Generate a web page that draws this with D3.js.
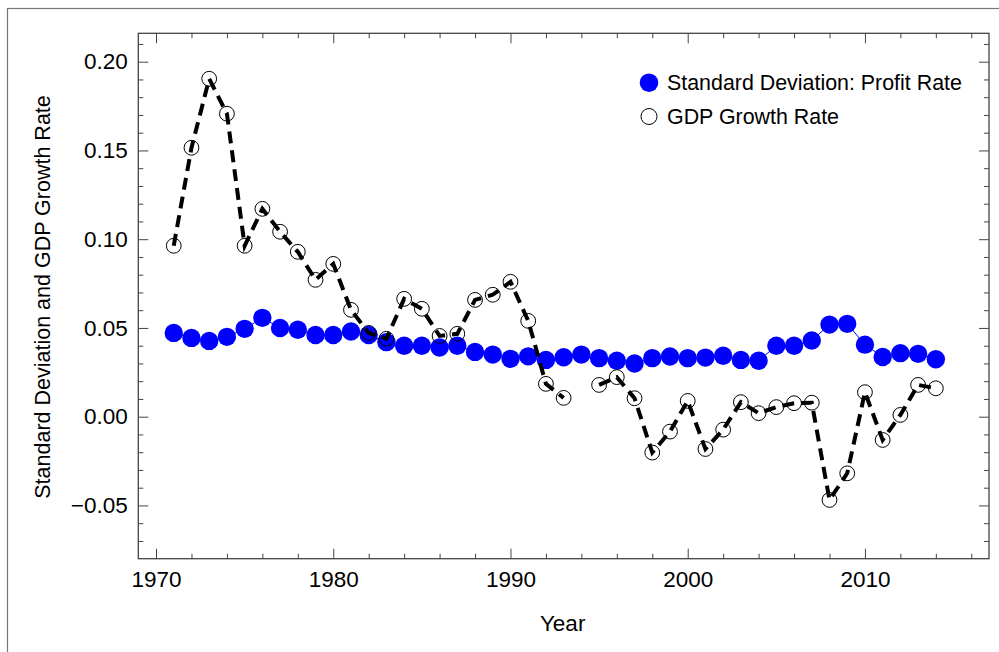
<!DOCTYPE html>
<html>
<head>
<meta charset="utf-8">
<script src="https://cdn.jsdelivr.net/npm/d3@7"></script>
<style>
  html, body { margin: 0; padding: 0; background: #fff; }
  svg { display: block; font-family: "Liberation Sans", Arial, sans-serif; }
</style>
</head>
<body>
<svg id="chart" width="999" height="652"></svg>
<script>
const years = d3.range(1971, 2015);
const sdProfit = [0.0472, 0.0444, 0.0427, 0.0450, 0.0495, 0.0557, 0.0500, 0.0490, 0.0460, 0.0460,
  0.0480, 0.0460, 0.0420, 0.0400, 0.0400, 0.0390, 0.0400, 0.0365, 0.0350, 0.0326,
  0.0340, 0.0320, 0.0335, 0.0350, 0.0330, 0.0315, 0.0300, 0.0330, 0.0339, 0.0330,
  0.0333, 0.0343, 0.0320, 0.0315, 0.0400, 0.0400, 0.0429, 0.0519, 0.0523, 0.0406,
  0.0336, 0.0358, 0.0354, 0.0324];
const gdpGrowth = [0.0963, 0.1515, 0.1904, 0.1707, 0.0963, 0.1171, 0.1042, 0.0929, 0.0771, 0.0861,
  0.0602, 0.0472, 0.0439, 0.0664, 0.0608, 0.0455, 0.0467, 0.0658, 0.0687, 0.0760,
  0.0540, 0.0185, 0.0106, null, 0.0179, 0.0223, 0.0104, -0.0202, -0.0084, 0.0089,
  -0.0182, -0.0073, 0.0082, 0.0020, 0.0054, 0.0076, 0.0079, -0.0469, -0.0319, 0.0138,
  -0.0131, 0.0010, 0.0179, 0.0160];
const xMajorTicks = [1970, 1980, 1990, 2000, 2010];
const xMinorTicks = d3.range(1972, 2017, 2).filter(v => v % 10 !== 0);
const yMajorTicks = [-0.05, 0.00, 0.05, 0.10, 0.15, 0.20];
const yMinorTicks = d3.range(-7, 22).map(v => v / 100).filter(v => Math.round(v * 100) % 5 !== 0);
const seriesNames = ["Standard Deviation: Profit Rate", "GDP Growth Rate"];
const xLabel = "Year";
const yLabel = "Standard Deviation and GDP Growth Rate";

const svg = d3.select("#chart");
const L = 138.3, R = 989, T = 33.3, B = 558.7;
const x = d3.scaleLinear().domain([1969, 2017]).range([L, R]);
const y = d3.scaleLinear().domain([-0.08, 0.216]).range([B, T]);
const frameColor = "#444";

// outer border
svg.append("rect").attr("x", 7.5).attr("y", 8.5).attr("width", 1010).attr("height", 660)
  .attr("fill", "none").attr("stroke", "#777").attr("stroke-width", 1.2);

function styleAxis(g) {
  g.select(".domain").remove();
  g.selectAll(".tick line").attr("stroke", frameColor).attr("stroke-width", 1);
  g.selectAll("text").attr("fill", "#000").attr("font-size", 22.5);
}

// bottom axes
svg.append("g").attr("transform", `translate(0,${B})`)
  .call(d3.axisBottom(x).tickValues(xMajorTicks).tickFormat(d3.format("d")).tickSizeInner(-10).tickSizeOuter(0).tickPadding(12.7))
  .call(styleAxis);
svg.append("g").attr("transform", `translate(0,${B})`)
  .call(d3.axisBottom(x).tickValues(xMinorTicks).tickFormat("").tickSizeInner(-5).tickSizeOuter(0))
  .call(styleAxis);
// top axes (mirrored)
svg.append("g").attr("transform", `translate(0,${T})`)
  .call(d3.axisTop(x).tickValues(xMajorTicks).tickFormat("").tickSizeInner(-10).tickSizeOuter(0))
  .call(styleAxis);
svg.append("g").attr("transform", `translate(0,${T})`)
  .call(d3.axisTop(x).tickValues(xMinorTicks).tickFormat("").tickSizeInner(-5).tickSizeOuter(0))
  .call(styleAxis);
// left axes
svg.append("g").attr("transform", `translate(${L},0)`)
  .call(d3.axisLeft(y).tickValues(yMajorTicks).tickFormat(d3.format(".2f")).tickSizeInner(-10).tickSizeOuter(0).tickPadding(10.5))
  .call(styleAxis);
svg.append("g").attr("transform", `translate(${L},0)`)
  .call(d3.axisLeft(y).tickValues(yMinorTicks).tickFormat("").tickSizeInner(-5).tickSizeOuter(0))
  .call(styleAxis);
// right axes
svg.append("g").attr("transform", `translate(${R},0)`)
  .call(d3.axisRight(y).tickValues(yMajorTicks).tickFormat("").tickSizeInner(-10).tickSizeOuter(0))
  .call(styleAxis);
svg.append("g").attr("transform", `translate(${R},0)`)
  .call(d3.axisRight(y).tickValues(yMinorTicks).tickFormat("").tickSizeInner(-5).tickSizeOuter(0))
  .call(styleAxis);

// frame
svg.append("rect").attr("x", L).attr("y", T).attr("width", R - L).attr("height", B - T)
  .attr("fill", "none").attr("stroke", frameColor).attr("stroke-width", 1.3);

// axis labels
svg.append("text").attr("x", (L + R) / 2 - 1).attr("y", 630.5).attr("text-anchor", "middle")
  .attr("font-size", 22.5).attr("fill", "#000").text(xLabel);
svg.append("text").attr("transform", `translate(50,297) rotate(-90)`).attr("text-anchor", "middle")
  .attr("font-size", 21.5).attr("fill", "#000").text(yLabel);

const sdData = years.map((yr, i) => ({ yr, v: sdProfit[i] }));
const gdpData = years.map((yr, i) => ({ yr, v: gdpGrowth[i] }));

const plot = svg.append("g");
// blue series
plot.append("path").datum(sdData)
  .attr("d", d3.line().x(d => x(d.yr)).y(d => y(d.v)))
  .attr("fill", "none").attr("stroke", "#0000ff").attr("stroke-width", 1);
plot.selectAll("circle.sd").data(sdData).join("circle").attr("class", "sd")
  .attr("cx", d => x(d.yr)).attr("cy", d => y(d.v)).attr("r", 9.2).attr("fill", "#0000ff");

// GDP series
plot.selectAll("circle.gdp").data(gdpData.filter(d => d.v !== null)).join("circle").attr("class", "gdp")
  .attr("cx", d => x(d.yr)).attr("cy", d => y(d.v)).attr("r", 7.4)
  .attr("fill", "none").attr("stroke", "#000").attr("stroke-width", 1);
plot.append("path").datum(gdpData)
  .attr("d", d3.line().defined(d => d.v !== null).x(d => x(d.yr)).y(d => y(d.v)))
  .attr("fill", "none").attr("stroke", "#000").attr("stroke-width", 4)
  .attr("stroke-dasharray", "12,7");

// legend
const lg = svg.append("g");
lg.append("circle").attr("cx", 649).attr("cy", 82.7).attr("r", 9.3).attr("fill", "#0000ff");
lg.append("circle").attr("cx", 649).attr("cy", 116.5).attr("r", 8).attr("fill", "none").attr("stroke", "#000").attr("stroke-width", 1);
lg.append("text").attr("x", 667).attr("y", 90).attr("font-size", 21.4).attr("fill", "#000").text(seriesNames[0]);
lg.append("text").attr("x", 667).attr("y", 123.5).attr("font-size", 21.4).attr("fill", "#000").text(seriesNames[1]);
</script>
</body>
</html>
